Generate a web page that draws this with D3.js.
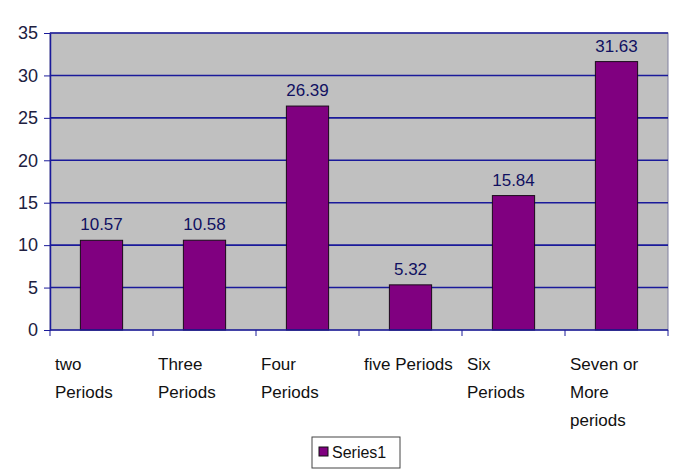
<!DOCTYPE html>
<html><head><meta charset="utf-8">
<script src="https://cdn.jsdelivr.net/npm/d3@7"></script>
<style>body{margin:0;background:#fff}text{font-family:"Liberation Sans",Arial,sans-serif}</style>
</head><body><svg id="c" width="673" height="476"></svg>
<script>
const categories=[["two","Periods"],["Three","Periods"],["Four","Periods"],["five Periods"],["Six","Periods"],["Seven or","More","periods"]];
const values=[10.57,10.58,26.39,5.32,15.84,31.63];
const yTicks=[0,5,10,15,20,25,30,35];
const seriesName="Series1";

const svg=d3.select("#c");
const L=50,R=668,T=33,B=330;
const x=d3.scaleBand().domain(d3.range(values.length)).range([L,R]).paddingInner(0.59).paddingOuter(0.295);
const slot=d3.scaleBand().domain(d3.range(values.length)).range([L,R]);
const y=d3.scaleLinear().domain([0,35]).range([B,T]);

svg.append("rect").attr("x",L).attr("y",T).attr("width",R-L).attr("height",B-T).attr("fill","#c0c0c0").attr("stroke","#8080a0");
svg.selectAll(".g").data(yTicks.slice(1)).join("line").attr("x1",L).attr("x2",R).attr("y1",d=>y(d)).attr("y2",d=>y(d)).attr("stroke","#1a1a9a").attr("stroke-width",1.6);

svg.selectAll(".b").data(values).join("rect").attr("x",(d,i)=>x(i)).attr("width",x.bandwidth()).attr("y",d=>y(d)).attr("height",d=>B-y(d)).attr("fill","#800080").attr("stroke","#1a0a1a").attr("stroke-width",1);
svg.selectAll(".v").data(values).join("text").attr("x",(d,i)=>x(i)+x.bandwidth()/2).attr("y",d=>y(d)-10).attr("text-anchor","middle").attr("font-size",17).attr("fill","#101060").text(d=>d.toFixed(2));

const ya=svg.append("g").attr("transform",`translate(${L},0)`).call(d3.axisLeft(y).tickValues(yTicks).tickSize(6).tickSizeOuter(0));
ya.select(".domain").attr("stroke","#1a1a9a").attr("stroke-width",1.5);
ya.selectAll("line").attr("stroke","#1a1a9a");
ya.selectAll("text").attr("font-size",18).attr("fill","#202040").attr("x",-12);
ya.selectAll("text").style("font-family","'Liberation Sans',Arial,sans-serif");

const xa=svg.append("g").attr("transform",`translate(0,${B})`);
xa.append("line").attr("x1",L).attr("x2",R).attr("stroke","#1a1a9a").attr("stroke-width",1.5);
xa.selectAll(".t").data(d3.range(values.length+1)).join("line").attr("x1",i=>L+i*slot.bandwidth()).attr("x2",i=>L+i*slot.bandwidth()).attr("y2",6).attr("stroke","#1a1a9a");

categories.forEach((lines,i)=>{
  const t=svg.append("text").attr("x",slot(i)+5).attr("y",370).attr("font-size",17).attr("fill","#111");
  lines.forEach((s,j)=>t.append("tspan").attr("x",slot(i)+5).attr("dy",j?28:0).text(s));
});

const lg=svg.append("g");
lg.append("rect").attr("x",312).attr("y",437).attr("width",88).attr("height",31).attr("fill","#fff").attr("stroke","#444");
lg.append("rect").attr("x",319).attr("y",447).attr("width",9).attr("height",9).attr("fill","#800080").attr("stroke","#111");
lg.append("text").attr("x",332).attr("y",458).attr("font-size",16).attr("fill","#111").text(seriesName);
</script></body></html>
